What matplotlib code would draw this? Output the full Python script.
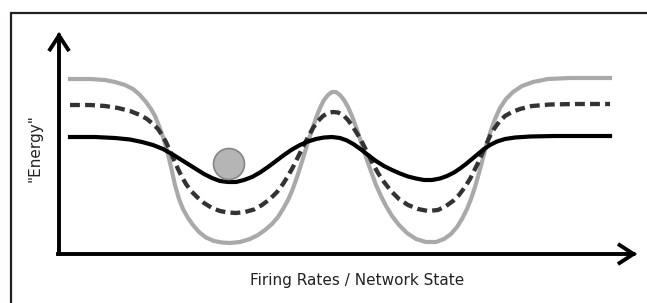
import matplotlib
matplotlib.use("Agg")
import matplotlib.pyplot as plt
from matplotlib.lines import Line2D
from matplotlib.patches import Circle

# ---- data (network state vs. "energy") ----
gray_x = [70, 90, 105, 115, 125, 133, 140, 146, 151, 155, 159, 163, 167, 171, 175, 179,
          183, 188, 193, 199, 206, 214, 222, 230, 240, 250, 258, 265, 272, 278, 283, 288,
          292, 296, 300, 304, 308, 312, 316, 320, 324, 328, 332, 336, 340, 344, 348, 352,
          356, 360, 364, 368, 372, 376, 381, 386, 392, 399, 407, 416, 426, 436, 444, 451,
          457, 462, 467, 471, 475, 479, 483, 487, 491, 495, 500, 506, 513, 522, 533, 548,
          570, 610]
gray_y = [175, 175, 174, 172, 169, 165, 159, 152, 145, 138, 128, 117, 104, 87, 69, 55,
          45, 36, 29, 22, 16.5, 13, 11.5, 11, 12, 15, 19, 24, 30, 37, 45, 54,
          63, 74, 86, 99, 112, 124, 136, 146, 154, 159, 162, 162, 159, 154, 147, 138,
          127, 115, 103, 91, 80, 69, 58, 48, 38, 29, 21, 15, 12, 12, 15, 20,
          27, 35, 45, 55, 67, 81, 96, 111, 124, 135, 146, 155, 162, 168, 172, 175,
          176, 176]

dash_x = [70, 90, 105, 118, 130, 140, 147, 153, 158, 162, 166, 170, 174, 178, 182, 186,
          191, 197, 204, 212, 220, 228, 236, 245, 254, 262, 270, 277, 283, 288, 293, 298,
          303, 308, 313, 318, 323, 328, 333, 338, 343, 348, 353, 358, 363, 368, 373, 378,
          384, 391, 399, 408, 418, 428, 438, 446, 453, 459, 465, 470, 474, 478, 482, 486,
          490, 494, 499, 505, 512, 520, 532, 550, 575, 610]
dash_y = [149, 149, 148, 146, 143, 139, 135, 130, 125, 119, 112, 103, 94, 85, 77, 70,
          63, 57, 51, 46, 43, 41.5, 41, 42, 44.5, 49, 55, 62, 70, 78, 87, 97,
          107, 117, 126, 133, 138, 141, 142, 141.5, 139, 134, 127, 119, 110, 100, 90, 81,
          72, 63, 55, 49, 45, 43, 44, 48, 53, 59, 67, 75, 83, 91, 100, 109,
          118, 125, 132, 138, 142, 145, 148, 149.5, 150, 150]

solid_x = [70, 95, 115, 130, 142, 153, 163, 172, 180, 188, 196, 204, 212, 220, 228, 236,
           244, 252, 260, 268, 276, 284, 292, 300, 308, 316, 324, 332, 340, 347, 354, 361,
           368, 376, 384, 392, 400, 408, 416, 424, 432, 440, 447, 454, 460, 466, 472, 478,
           484, 490, 497, 505, 515, 530, 555, 610]
solid_y = [117, 117, 116, 114.5, 112, 109, 105, 100, 95, 90, 85, 80, 76, 73, 72, 72,
           74, 77, 81.5, 87, 93, 99, 104.5, 109, 112.5, 115, 116.5, 117, 116, 113.5, 109.5, 104.5,
           99, 93, 88, 84, 80.5, 77.5, 75.5, 74, 74, 75.5, 78, 81.5, 85.5, 90, 95, 100,
           105, 109, 112.5, 115, 116.5, 117.5, 118, 118]

ball_x, ball_y, ball_r = 229, 90, 15.5

x_label = "Firing Rates / Network State"
y_label = '"Energy"'

# ---- figure ----
W, H = 647, 303
fig = plt.figure(figsize=(W / 100, H / 100), dpi=100)
fig.patch.set_facecolor("white")

ax_left, ax_right, ax_bottom, ax_top = 59, 637, 254, 32
ax = fig.add_axes([ax_left / W, (H - ax_bottom) / H,
                   (ax_right - ax_left) / W, (ax_bottom - ax_top) / H])
ax.set_xlim(ax_left, ax_right)
ax.set_ylim(0, ax_bottom - ax_top)
ax.axis("off")

# outer frame (open at right/bottom)
fig.add_artist(Line2D([11 / W, 11 / W, 1.0], [0.0, 1 - 12.7 / H, 1 - 12.7 / H],
                      transform=fig.transFigure, color="#231f20", lw=1.6,
                      solid_joinstyle="miter"))

# curves
ax.plot(gray_x, gray_y, color="#a9a9a9", lw=3.0, zorder=2, clip_on=False,
        solid_joinstyle="round")
ax.plot(dash_x, dash_y, color="#333333", lw=3.1, linestyle=(0, (2.3, 1.2)),
        dash_capstyle="butt", zorder=3, clip_on=False)
ax.plot(solid_x, solid_y, color="black", lw=3.0, zorder=4, clip_on=False,
        solid_joinstyle="round")

# ball
ax.add_patch(Circle((ball_x, ball_y), ball_r, facecolor="#b5b5b5",
                    edgecolor="#858585", lw=1.2, zorder=5, clip_on=False))

# axes arrows
arrow = dict(arrowstyle="->,head_length=1.0,head_width=0.65", lw=2.8,
             color="black", shrinkA=0, shrinkB=0, mutation_scale=10,
             joinstyle="miter", capstyle="projecting")
ax.annotate("", xy=(ax_left, ax_bottom - ax_top), xytext=(ax_left, 0),
            arrowprops=arrow, annotation_clip=False)
ax.annotate("", xy=(ax_right, 0), xytext=(ax_left - 1, 0),
            arrowprops=arrow, annotation_clip=False)

# labels
fig.text(357 / W, 1 - 280 / H, x_label, ha="center", va="center",
         fontsize=11, color="#222222", family="DejaVu Sans")
fig.text(35 / W, 1 - 148 / H, y_label, ha="center", va="center", rotation=90,
         fontsize=11, color="#222222", family="DejaVu Sans")

fig.savefig("out.png", dpi=100, facecolor="white")
